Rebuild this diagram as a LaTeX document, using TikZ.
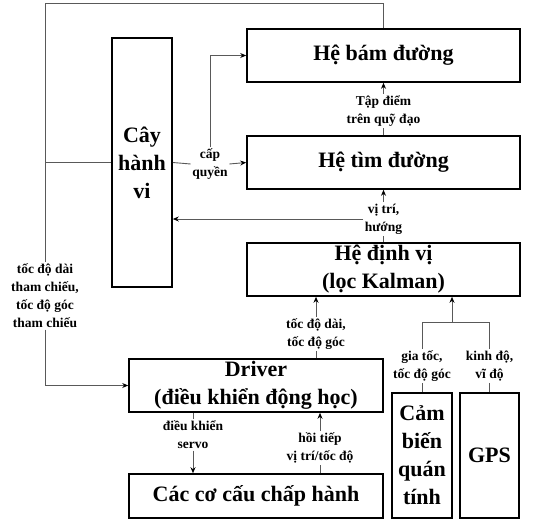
\documentclass[tikz,border=0pt]{standalone}
\usepackage{fontspec}
\setmainfont{Liberation Serif}
\usetikzlibrary{arrows.meta}
\begin{document}
\begin{tikzpicture}[x=1pt,y=-1pt,
  blk/.style={draw=black,line width=1.6pt,align=center,inner sep=0pt,
    font=\fontsize{22}{28}\selectfont\bfseries},
  lbl/.style={align=center,inner sep=1.5pt,font=\fontsize{13.5}{18}\selectfont\bfseries},
  con/.style={draw=black!65,line width=0.9pt},
  arr/.style={con,-{Stealth[length=6pt,width=5pt,black]}}]
\useasboundingbox (0,0) rectangle (547,520);
% blocks
\node[blk,minimum width=273pt,minimum height=53pt] (bam) at (383.5,55.5) {Hệ bám đường};
\node[blk,minimum width=273pt,minimum height=53pt] (tim) at (383.5,162.5) {Hệ tìm đường};
\node[blk,minimum width=273pt,minimum height=53pt] (dv) at (383.5,269.5) {Hệ định vị\\(lọc Kalman)};
\node[blk,minimum width=60pt,minimum height=249pt] (cay) at (142,162.5) {Cây\\hành\\vi};
\node[blk,minimum width=254pt,minimum height=53pt] (drv) at (256,385.5) {Driver\\(điều khiển động học)};
\node[blk,minimum width=254pt,minimum height=44pt] (cc) at (256,496) {Các cơ cấu chấp hành};
\node[blk,minimum width=60pt,minimum height=125pt] (cb) at (422,455.5) {Cảm\\biến\\quán\\tính};
\node[blk,minimum width=59pt,minimum height=125pt] (gps) at (489.5,455.5) {GPS};
% labels
\node[lbl] (ltap) at (383.5,111) {Tập điểm\\trên quỹ đạo};
\node[lbl] (lcap) at (210,164) {cấp\\quyền};
\node[lbl] (lvt) at (383.5,219) {vị trí,\\hướng};
\node[lbl] (ltd) at (316,334) {tốc độ dài,\\tốc độ góc};
\node[lbl] (lref) at (45,296) {tốc độ dài\\tham chiếu,\\tốc độ góc\\tham chiếu};
\node[lbl] (lgia) at (422,366) {gia tốc,\\tốc độ góc};
\node[lbl] (lkinh) at (489.5,366) {kinh độ,\\vĩ độ};
\node[lbl] (ldk) at (193,435) {điều khiển\\servo};
\node[lbl] (lht) at (320,448) {hồi tiếp\\vị trí/tốc độ};
% helper coordinates
\coordinate (t1) at (383.5,3);
\coordinate (t2) at (45,3);
\coordinate (jc) at (45,162.5);
\coordinate (js) at (452,322);
\coordinate (jl) at (422,322);
\coordinate (jr) at (489.5,322);
% connectors
\draw[con] (bam.north) -- (t1) -- (t2) -- (lref.north);
\draw[arr] (lref.south) |- (drv.west);
\draw[con] (jc) -- (cay.west);
\draw[con] (cay.east) -- (lcap.west);
\draw[arr] (lcap.east) -- (tim.west);
\draw[arr] (lcap.north) |- (bam.west);
\draw[con] (tim.north) -- (ltap.south);
\draw[arr] (ltap.north) -- (bam.south);
\draw[con] (dv.north) -- (lvt.south);
\draw[arr] (lvt.north) -- (tim.south);
\draw[arr] (lvt.west) -- (lvt.west -| cay.east);
\draw[con] (ltd.south |- drv.north) -- (ltd.south);
\draw[arr] (ltd.north) -- (ltd.north |- dv.south);
\draw[arr] (js) -- (js |- dv.south);
\draw[con] (jl) -- (jr);
\draw[con] (jl) -- (lgia.north);
\draw[con] (lgia.south) -- (cb.north);
\draw[con] (jr) -- (lkinh.north);
\draw[con] (lkinh.south) -- (gps.north);
\draw[con] (ldk.north |- drv.south) -- (ldk.north);
\draw[arr] (ldk.south) -- (ldk.south |- cc.north);
\draw[con] (lht.south |- cc.north) -- (lht.south);
\draw[arr] (lht.north) -- (lht.north |- drv.south);
\end{tikzpicture}
\end{document}
